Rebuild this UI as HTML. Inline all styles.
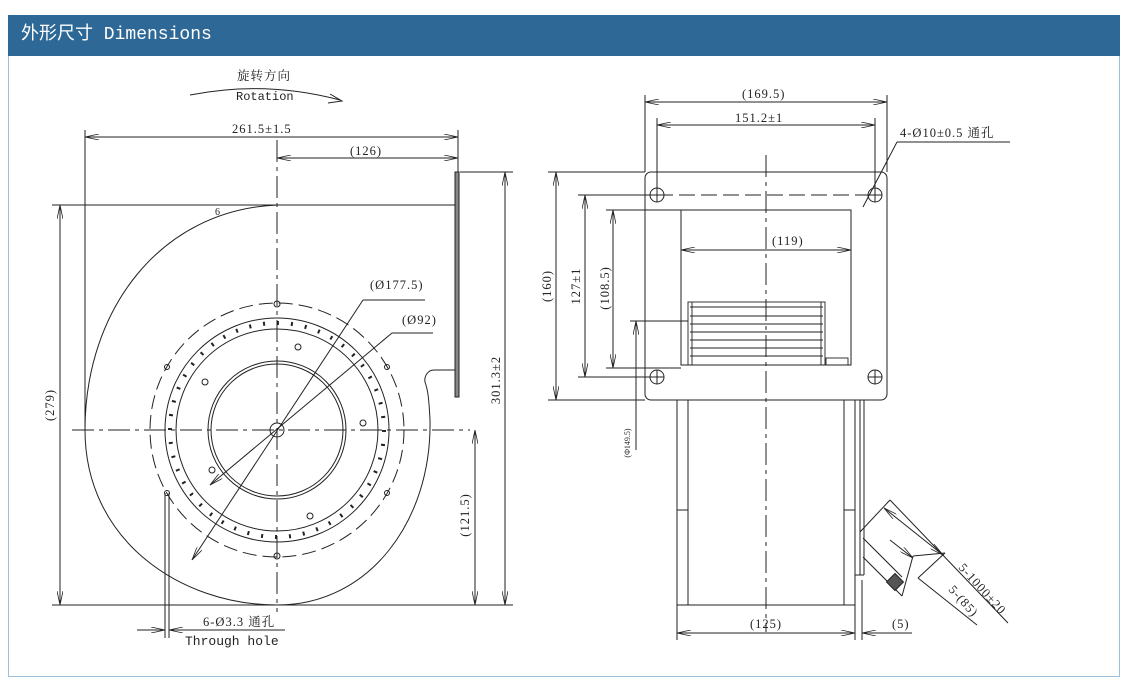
<!DOCTYPE html>
<html><head><meta charset="utf-8">
<style>
html,body{margin:0;padding:0;background:#fff;width:1148px;height:691px;overflow:hidden}
.hdr{position:absolute;left:8px;top:15px;width:1112px;height:41px;background:#2e6896;color:#fff;font-family:"Liberation Mono","Noto Sans CJK SC",monospace;font-size:18px;line-height:41px;padding-left:13px;box-sizing:border-box}
.panel{position:absolute;left:8px;top:56px;width:1112px;height:621px;border:1px solid #9cc0dc;border-top:none;box-sizing:border-box}
svg{position:absolute;left:0;top:0}
text{font-family:"Liberation Serif","Noto Serif CJK SC",serif;font-size:12.5px;fill:#222;letter-spacing:1px}
</style></head><body>
<div class="hdr">外形尺寸 Dimensions</div>
<div class="panel"></div>
<svg width="1148" height="691" viewBox="0 0 1148 691">
<defs>
<marker id="a" viewBox="0 0 14 6" refX="14" refY="3" markerWidth="14" markerHeight="6" orient="auto-start-reverse" markerUnits="userSpaceOnUse"><path d="M0,0 L14,3 L0,6" fill="none" stroke="#222" stroke-width="0.8"/></marker>
</defs>
<g stroke="#222" stroke-width="1" fill="none">
<path d="M190,95 Q265,80 340,100"/><path d="M330,94 L342,101 L328,103"/>
<line x1="85" y1="137" x2="458" y2="137" marker-start="url(#a)" marker-end="url(#a)"/>
<line x1="85" y1="130" x2="85" y2="430"/>
<line x1="458" y1="130" x2="458" y2="172"/>
<line x1="277" y1="158" x2="458" y2="158" marker-start="url(#a)" marker-end="url(#a)"/>
<line x1="52" y1="205" x2="456" y2="205"/>
<line x1="52" y1="605" x2="513" y2="605"/>
<line x1="460" y1="172" x2="513" y2="172"/>
<line x1="60" y1="205" x2="60" y2="605" marker-start="url(#a)" marker-end="url(#a)"/>
<line x1="505" y1="172" x2="505" y2="605" marker-start="url(#a)" marker-end="url(#a)"/>
<line x1="475" y1="430" x2="475" y2="605" marker-start="url(#a)" marker-end="url(#a)"/>
<path d="M277,205 C160,210 85,310 85,430 C85,540 180,605 277,605 C370,605 432,520 430,420 C429,400 428,390 425,382 C424,376 428,370 434,370 L456,370"/>
<rect x="455" y="172" width="4" height="225" fill="#888"/>
<line x1="72" y1="430" x2="470" y2="430" stroke-dasharray="22,5,4,5"/>
<line x1="277" y1="140" x2="277" y2="612" stroke-dasharray="22,5,4,5"/>
<circle cx="277" cy="430" r="127" stroke-dasharray="14,6"/>
<circle cx="277" cy="430" r="112"/>
<circle cx="277" cy="430" r="107" stroke-dasharray="2,12" stroke-width="4"/>
<circle cx="277" cy="430" r="101"/>
<circle cx="277" cy="430" r="69"/>
<circle cx="277" cy="430" r="66"/>
<circle cx="277" cy="430" r="7"/>
<g stroke-width="1">
<circle cx="277" cy="304" r="3"/><circle cx="277" cy="556" r="3"/>
<circle cx="167" cy="367" r="2.5"/><circle cx="387" cy="367" r="2.5"/>
<circle cx="167" cy="493" r="2.5"/><circle cx="387" cy="493" r="2.5"/>
<circle cx="298" cy="347" r="3"/><circle cx="205" cy="382" r="3"/>
<circle cx="363" cy="423" r="3"/><circle cx="212" cy="470" r="3"/>
<circle cx="310" cy="516" r="3"/>
</g>
<line x1="192" y1="560" x2="363" y2="300" marker-start="url(#a)"/>
<line x1="363" y1="300" x2="425" y2="300"/>
<line x1="210" y1="485" x2="392" y2="333" marker-start="url(#a)"/>
<line x1="392" y1="333" x2="433" y2="333"/>
<line x1="165" y1="493" x2="165" y2="638"/><line x1="169" y1="493" x2="169" y2="638"/>
<line x1="137" y1="630" x2="165" y2="630" marker-end="url(#a)"/>
<line x1="169" y1="630" x2="285" y2="630" marker-start="url(#a)"/>

<line x1="766" y1="155" x2="766" y2="632" stroke-dasharray="22,5,4,5"/>
<line x1="645" y1="95" x2="645" y2="172"/><line x1="887" y1="95" x2="887" y2="172"/>
<line x1="645" y1="102" x2="887" y2="102" marker-start="url(#a)" marker-end="url(#a)"/>
<line x1="657" y1="118" x2="657" y2="195"/><line x1="875" y1="118" x2="875" y2="195"/>
<line x1="657" y1="125" x2="875" y2="125" marker-start="url(#a)" marker-end="url(#a)"/>
<rect x="645" y="172" width="242" height="228" rx="6"/>
<line x1="657" y1="195" x2="875" y2="195" stroke-dasharray="16,6"/>
<g><circle cx="657" cy="195" r="7"/><circle cx="875" cy="195" r="7"/><circle cx="657" cy="377" r="7"/><circle cx="875" cy="377" r="7"/>
<path d="M650,195h14M657,188v14M868,195h14M875,188v14M650,377h14M657,370v14M868,377h14M875,370v14"/></g>
<line x1="863" y1="207" x2="897" y2="142"/><line x1="897" y1="142" x2="1010" y2="142"/>
<rect x="681" y="210" width="170" height="155"/>
<line x1="681" y1="250" x2="851" y2="250" marker-start="url(#a)" marker-end="url(#a)"/>
<g stroke-width="0.9">
<rect x="688" y="302" width="137" height="63"/>
<path d="M690,307h133M690,316h133M690,324h133M690,332h133M690,340h133M690,348h133M690,356h133"/>
<path d="M692,302v63M821,302v63"/>
<rect x="826" y="358" width="22" height="7"/>
</g>
<line x1="548" y1="172" x2="645" y2="172"/><line x1="548" y1="400" x2="645" y2="400"/>
<line x1="556" y1="172" x2="556" y2="400" marker-start="url(#a)" marker-end="url(#a)"/>
<line x1="578" y1="195" x2="657" y2="195"/><line x1="578" y1="377" x2="657" y2="377"/>
<line x1="585" y1="195" x2="585" y2="377" marker-start="url(#a)" marker-end="url(#a)"/>
<line x1="606" y1="210" x2="681" y2="210"/><line x1="606" y1="368" x2="681" y2="368"/>
<line x1="613" y1="210" x2="613" y2="368" marker-start="url(#a)" marker-end="url(#a)"/>
<line x1="630" y1="321" x2="688" y2="321"/>
<line x1="636" y1="450" x2="636" y2="321" marker-end="url(#a)"/>
<rect x="677" y="400" width="178" height="205"/>
<line x1="688" y1="400" x2="688" y2="605"/><line x1="844" y1="400" x2="844" y2="605"/>
<line x1="677" y1="510" x2="688" y2="510"/><line x1="844" y1="510" x2="855" y2="510"/>
<line x1="860" y1="400" x2="860" y2="575"/><line x1="864" y1="400" x2="864" y2="575"/>
<line x1="855" y1="575" x2="864" y2="575"/>
<line x1="677" y1="605" x2="677" y2="640"/><line x1="855" y1="575" x2="855" y2="640"/><line x1="862" y1="580" x2="862" y2="640"/>
<line x1="677" y1="633" x2="855" y2="633" marker-start="url(#a)" marker-end="url(#a)"/>
<line x1="862" y1="633" x2="912" y2="633" marker-start="url(#a)"/>
<line x1="860" y1="532" x2="890" y2="500"/>
<line x1="890" y1="500" x2="1008" y2="623"/>
<line x1="884" y1="508" x2="943" y2="555" marker-start="url(#a)" marker-end="url(#a)"/>
<line x1="863" y1="538" x2="902" y2="577"/>
<line x1="863" y1="557" x2="902" y2="596"/>
<line x1="890" y1="540" x2="913" y2="558" marker-end="url(#a)"/>
<line x1="913" y1="556" x2="902" y2="596"/>
<line x1="913" y1="556" x2="945" y2="553"/>
<line x1="918" y1="578" x2="977" y2="625"/>
<line x1="945" y1="553" x2="918" y2="578"/>
<rect x="889" y="576" width="12" height="12" transform="rotate(45 895 582)" fill="#555"/>
</g>
<g>
<text x="237" y="80">旋转方向</text>
<text x="236" y="100" style="font-family:'Liberation Mono',monospace;font-size:12px;letter-spacing:0">Rotation</text>
<text x="232" y="133">261.5±1.5</text>
<text x="350" y="155">(126)</text>
<text x="215" y="215" style="font-size:10px">6</text>
<text x="370" y="289">(Ø177.5)</text>
<text x="402" y="324">(Ø92)</text>
<text x="203" y="626">6-Ø3.3 通孔</text>
<text x="185" y="645" style="font-family:'Liberation Mono',monospace;font-size:13px;letter-spacing:0">Through hole</text>
<text transform="translate(54 405) rotate(-90)" text-anchor="middle">(279)</text>
<text transform="translate(500 380) rotate(-90)" text-anchor="middle">301.3±2</text>
<text transform="translate(469 515) rotate(-90)" text-anchor="middle">(121.5)</text>
<text x="742" y="98">(169.5)</text>
<text x="735" y="122">151.2±1</text>
<text x="900" y="137">4-Ø10±0.5 通孔</text>
<text x="772" y="245">(119)</text>
<text transform="translate(551 286) rotate(-90)" text-anchor="middle">(160)</text>
<text transform="translate(580 286) rotate(-90)" text-anchor="middle">127±1</text>
<text transform="translate(609 288) rotate(-90)" text-anchor="middle">(108.5)</text>
<text transform="translate(630 443) rotate(-90)" text-anchor="middle" style="font-size:8px;letter-spacing:0">(Φ149.5)</text>
<text x="750" y="628">(125)</text>
<text x="892" y="628">(5)</text>
<text transform="translate(958 568) rotate(48)">5-1000±20</text>
<text transform="translate(948 590) rotate(48)">5-(85)</text>
</g>
</svg>
</body></html>
